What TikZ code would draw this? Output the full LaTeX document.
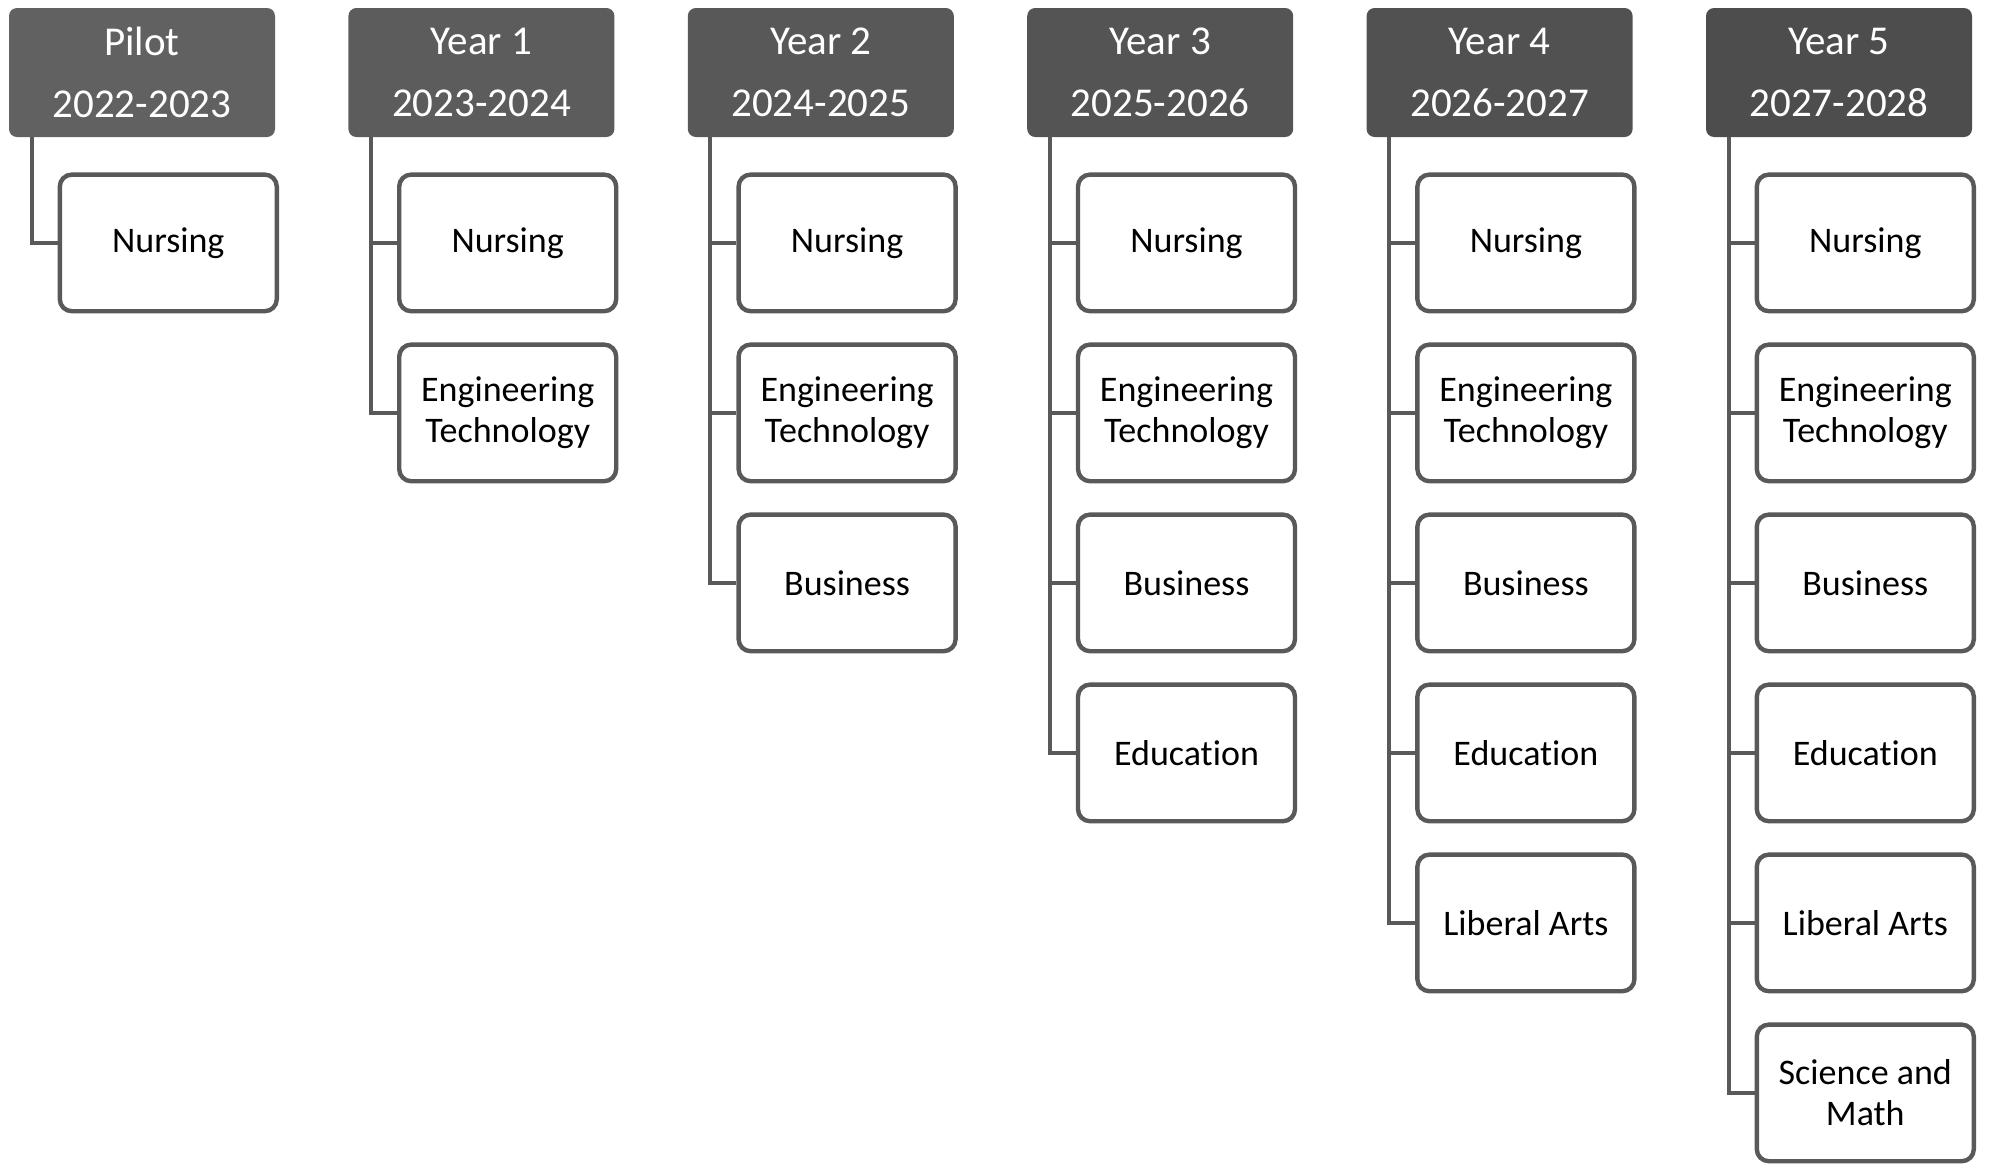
\documentclass[tikz,border=0pt]{standalone}
\usepackage{fontspec}
\setmainfont{Carlito}[Ligatures=NoCommon, Contextuals=NoAlternate]
\usetikzlibrary{positioning}

\definecolor{hdrA}{HTML}{616161}
\definecolor{hdrB}{HTML}{5C5C5C}
\definecolor{hdrC}{HTML}{585858}
\definecolor{hdrD}{HTML}{545454}
\definecolor{hdrE}{HTML}{515151}
\definecolor{hdrF}{HTML}{4D4D4D}
\definecolor{edge}{HTML}{595959}

\begin{document}
\begin{tikzpicture}[x=0.5pt, y=-0.5pt, node distance=14.5pt]
\tikzstyle{hdr} = [rectangle, rounded corners=4pt, text=white, align=center, minimum width=133pt, minimum height=64.5pt, inner sep=0pt, font=\fontsize{20.5pt}{31pt}\selectfont]
\tikzstyle{prog} = [rectangle, rounded corners=6pt, draw=edge, line width=2.2pt, fill=white, align=center, minimum width=108.5pt, minimum height=68.3pt, inner sep=0pt, font=\fontsize{18pt}{20.5pt}\selectfont]
\tikzstyle{link} = [draw=edge, line width=2pt]

\useasboundingbox (0,0) rectangle (1993,1168);

\node (pilot) [hdr, fill=hdrA] at (142,72.5) {Pilot\\2022-2023};
\node (yr1) [hdr, fill=hdrB] at (481.4,72.5) {Year 1\\2023-2024};
\node (yr2) [hdr, fill=hdrC] at (820.8,72.5) {Year 2\\2024-2025};
\node (yr3) [hdr, fill=hdrD] at (1160.2,72.5) {Year 3\\2025-2026};
\node (yr4) [hdr, fill=hdrE] at (1499.6,72.5) {Year 4\\2026-2027};
\node (yr5) [hdr, fill=hdrF] at (1839,72.5) {Year 5\\2027-2028};

\coordinate (pilottrunk) at ([xshift=11.5pt]pilot.south west);
\coordinate (yr1trunk) at ([xshift=11.5pt]yr1.south west);
\coordinate (yr2trunk) at ([xshift=11.5pt]yr2.south west);
\coordinate (yr3trunk) at ([xshift=11.5pt]yr3.south west);
\coordinate (yr4trunk) at ([xshift=11.5pt]yr4.south west);
\coordinate (yr5trunk) at ([xshift=11.5pt]yr5.south west);

\node (pilotnurs) [prog, below right=17.5pt and 24.5pt of pilot.south west] {Nursing};

\node (yr1nurs) [prog, below right=17.5pt and 24.5pt of yr1.south west] {Nursing};
\node (yr1eng) [prog, below=of yr1nurs] {Engineering\\Technology};

\node (yr2nurs) [prog, below right=17.5pt and 24.5pt of yr2.south west] {Nursing};
\node (yr2eng) [prog, below=of yr2nurs] {Engineering\\Technology};
\node (yr2bus) [prog, below=of yr2eng] {Business};

\node (yr3nurs) [prog, below right=17.5pt and 24.5pt of yr3.south west] {Nursing};
\node (yr3eng) [prog, below=of yr3nurs] {Engineering\\Technology};
\node (yr3bus) [prog, below=of yr3eng] {Business};
\node (yr3edu) [prog, below=of yr3bus] {Education};

\node (yr4nurs) [prog, below right=17.5pt and 24.5pt of yr4.south west] {Nursing};
\node (yr4eng) [prog, below=of yr4nurs] {Engineering\\Technology};
\node (yr4bus) [prog, below=of yr4eng] {Business};
\node (yr4edu) [prog, below=of yr4bus] {Education};
\node (yr4arts) [prog, below=of yr4edu] {Liberal Arts};

\node (yr5nurs) [prog, below right=17.5pt and 24.5pt of yr5.south west] {Nursing};
\node (yr5eng) [prog, below=of yr5nurs] {Engineering\\Technology};
\node (yr5bus) [prog, below=of yr5eng] {Business};
\node (yr5edu) [prog, below=of yr5bus] {Education};
\node (yr5arts) [prog, below=of yr5edu] {Liberal Arts};
\node (yr5sci) [prog, below=of yr5arts] {Science and\\Math};

\draw [link] (pilottrunk) |- (pilotnurs.west);

\draw [link] (yr1trunk) |- (yr1nurs.west);
\draw [link] (yr1trunk) |- (yr1eng.west);

\draw [link] (yr2trunk) |- (yr2nurs.west);
\draw [link] (yr2trunk) |- (yr2eng.west);
\draw [link] (yr2trunk) |- (yr2bus.west);

\draw [link] (yr3trunk) |- (yr3nurs.west);
\draw [link] (yr3trunk) |- (yr3eng.west);
\draw [link] (yr3trunk) |- (yr3bus.west);
\draw [link] (yr3trunk) |- (yr3edu.west);

\draw [link] (yr4trunk) |- (yr4nurs.west);
\draw [link] (yr4trunk) |- (yr4eng.west);
\draw [link] (yr4trunk) |- (yr4bus.west);
\draw [link] (yr4trunk) |- (yr4edu.west);
\draw [link] (yr4trunk) |- (yr4arts.west);

\draw [link] (yr5trunk) |- (yr5nurs.west);
\draw [link] (yr5trunk) |- (yr5eng.west);
\draw [link] (yr5trunk) |- (yr5bus.west);
\draw [link] (yr5trunk) |- (yr5edu.west);
\draw [link] (yr5trunk) |- (yr5arts.west);
\draw [link] (yr5trunk) |- (yr5sci.west);
\end{tikzpicture}
\end{document}
